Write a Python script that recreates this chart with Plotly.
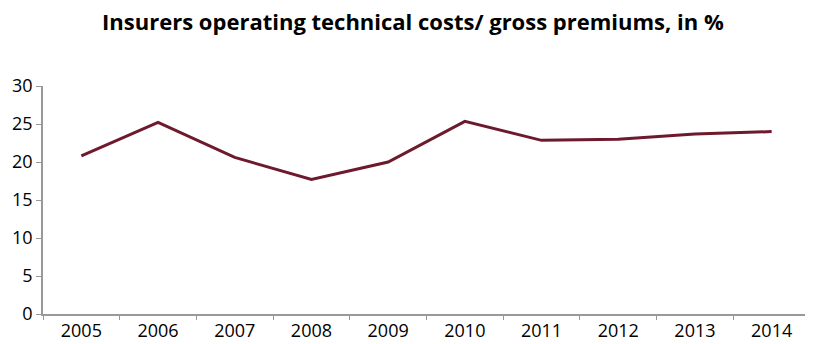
import plotly.graph_objects as go

years = ['2005', '2006', '2007', '2008', '2009', '2010', '2011', '2012', '2013', '2014']
cost_ratio = [20.8, 25.2, 20.6, 17.7, 20.0, 25.35, 22.85, 23.0, 23.7, 24.0]
y_ticks = [0, 5, 10, 15, 20, 25, 30]

fig = go.Figure()
fig.add_trace(go.Scatter(x=years, y=cost_ratio, mode='lines',
                         line=dict(color='#6e1a2d', width=3)))

# page body has an 8px margin, so the figure is a bit smaller than the window
fig.update_layout(
    width=805, height=336,
    margin=dict(l=35, r=3, t=78, b=30),
    paper_bgcolor='white', plot_bgcolor='white',
    showlegend=False,
    font=dict(family='Open Sans', size=18, color='black'),
    title=dict(text='<b>Insurers operating technical costs/ gross premiums, in %</b>',
               x=0.503, xanchor='center', y=0.958, yanchor='middle',
               font=dict(size=22, family='Open Sans', color='black')),
)
fig.update_xaxes(type='category', range=[-0.5, 9.5], tickson='boundaries',
                 ticks='outside', ticklen=4, tickcolor='#999999',
                 showline=True, linecolor='#999999', linewidth=1.5,
                 showgrid=False, zeroline=False, automargin=False)
fig.update_yaxes(range=[0, 30], tickvals=y_ticks, ticks='outside', ticklen=5,
                 tickcolor='#999999', showline=True, linecolor='#999999',
                 linewidth=1.5, showgrid=False, zeroline=False, automargin=False)

fig.write_html("out.html")
